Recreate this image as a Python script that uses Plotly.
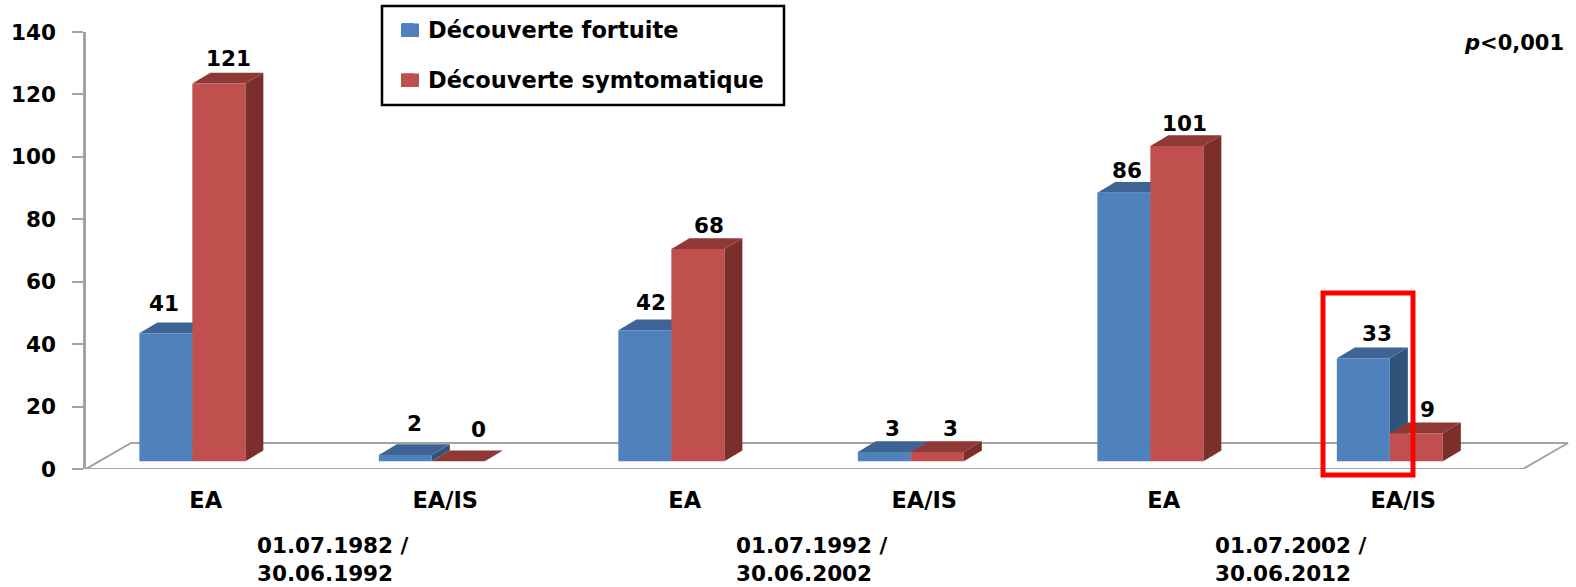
import plotly.graph_objects as go

# Values
categories = ["EA", "EA/IS", "EA", "EA/IS", "EA", "EA/IS"]
fortuite = [41, 2, 42, 3, 86, 33]
symptomatique = [121, 0, 68, 3, 101, 9]
y_ticks = [0, 20, 40, 60, 80, 100, 120, 140]
period_starts = ["01.07.1982 /", "01.07.1992 /", "01.07.2002 /"]
period_ends = ["30.06.1992", "30.06.2002", "30.06.2012"]

# Canvas and scale
W, H = 1576, 587
LEFT, TOP, BOTTOM = 86, 32, 469
PLOT_W, PLOT_H = W - LEFT, BOTTOM - TOP
CAT_PX = 239.5
UNIT_PX = PLOT_H / 140
BAR_W = 53 / CAT_PX
BAR_SHIFT = 13.4 / CAT_PX          # bars sit slightly left of the category centre
DEPTH_X = 18 / CAT_PX              # oblique depth of each column
DEPTH_Y = 10.8 / UNIT_PX
FRONT = 7.7 / UNIT_PX              # front plane of the columns above the axis zero
FLOOR_X = 45 / CAT_PX
FLOOR_Y = 26 / UNIT_PX
X_MIN, X_MAX = -0.5, 5.5 + 53 / CAT_PX

# Label nudges from the front-top centre of a column, in pixels
nudge_fortuite = [(-1.5, 30), (9, 32), (6.5, 27.5), (8.5, 23), (3.5, 22.6), (14, 25)]
nudge_symptomatique = [(9.5, 25), (20, 32), (11, 24), (13, 23), (7.5, 23), (11, 24)]

FONT = "DejaVu Sans"
TEXT_SIZE = 21.5
BLUE, BLUE_TOP, BLUE_SIDE = "#4F81BD", "#3D6494", "#30537A"
RED, RED_TOP, RED_SIDE = "#C0504D", "#8F3937", "#7B2F2D"
AXIS_GREY = "#A3A3A3"


def paper_x(px):
    return (px - LEFT) / PLOT_W


def paper_y(py):
    return (BOTTOM - py) / PLOT_H


def faces(values, left_shift):
    """Top and side parallelograms of a column series, as fill paths."""
    top_x, top_y, side_x, side_y = [], [], [], []
    for i, v in enumerate(values):
        x0 = i + left_shift
        x1 = x0 + BAR_W
        y1 = FRONT + v
        top_x += [x0, x1, x1 + DEPTH_X, x0 + DEPTH_X, x0, None]
        top_y += [y1, y1, y1 + DEPTH_Y, y1 + DEPTH_Y, y1, None]
        side_x += [x1, x1 + DEPTH_X, x1 + DEPTH_X, x1, x1, None]
        side_y += [FRONT, FRONT + DEPTH_Y, y1 + DEPTH_Y, y1, FRONT, None]
    return top_x, top_y, side_x, side_y


def face_trace(x, y, color):
    return go.Scatter(x=x, y=y, mode="lines", fill="toself", fillcolor=color,
                      line=dict(width=0, color=color), showlegend=False,
                      hoverinfo="skip", cliponaxis=False)


fig = go.Figure()

# Floor of the 3D plot
fig.add_trace(go.Scatter(
    x=[X_MIN, X_MIN + FLOOR_X, 5.5 + FLOOR_X, 5.5, X_MIN],
    y=[0, FLOOR_Y, FLOOR_Y, 0, 0],
    mode="lines", line=dict(color=AXIS_GREY, width=2),
    showlegend=False, hoverinfo="skip", cliponaxis=False))

# Column depth faces go on the base axes, so the fronts cover them
blue_shift = -BAR_SHIFT - BAR_W
red_shift = -BAR_SHIFT
bt_x, bt_y, bs_x, bs_y = faces(fortuite, blue_shift)
rt_x, rt_y, rs_x, rs_y = faces(symptomatique, red_shift)
fig.add_trace(face_trace(bs_x, bs_y, BLUE_SIDE))
fig.add_trace(face_trace(bt_x, bt_y, BLUE_TOP))
fig.add_trace(face_trace(rs_x, rs_y, RED_SIDE))
fig.add_trace(face_trace(rt_x, rt_y, RED_TOP))

# Column fronts
xs = list(range(len(categories)))
fig.add_trace(go.Bar(x=xs, y=fortuite, base=[FRONT] * 6, width=BAR_W, offset=blue_shift,
                     marker=dict(color=BLUE, line=dict(width=0)), name="Découverte fortuite",
                     xaxis="x2", yaxis="y2", legendgroup="a"))
fig.add_trace(go.Bar(x=xs, y=symptomatique, base=[FRONT] * 6, width=BAR_W, offset=red_shift,
                     marker=dict(color=RED, line=dict(width=0)), name="Découverte symtomatique",
                     xaxis="x2", yaxis="y2", legendgroup="b"))

# Value labels
annotations = []
for values, shift, nudges in ((fortuite, blue_shift, nudge_fortuite),
                              (symptomatique, red_shift, nudge_symptomatique)):
    for i, v in enumerate(values):
        annotations.append(dict(
            x=i + shift + BAR_W / 2, y=FRONT + v, xref="x", yref="y",
            text=f"<b>{v}</b>", showarrow=False, xanchor="center", yanchor="middle",
            xshift=nudges[i][0], yshift=nudges[i][1],
            font=dict(family=FONT, size=TEXT_SIZE, color="#000000")))

# Period labels under the category axis
for i, (start, end) in enumerate(zip(period_starts, period_ends)):
    px = 255 + 2 * i * CAT_PX
    for text, py in ((start, 545), (end, 573.5)):
        annotations.append(dict(
            x=paper_x(px), y=paper_y(py), xref="paper", yref="paper",
            yanchor="middle", xanchor="left", align="left",
            text=f"<b>{text}</b>", showarrow=False,
            font=dict(family=FONT, size=TEXT_SIZE, color="#000000")))

# Significance note
annotations.append(dict(
    x=paper_x(1566), y=paper_y(43), xref="paper", yref="paper", xanchor="right", yanchor="middle",
    text="<b><i>p</i>&lt;0,001</b>", showarrow=False,
    font=dict(family=FONT, size=21, color="#000000")))


def swatch(py_top, py_bottom, color):
    """Wider legend key, laid over the native one."""
    return dict(type="rect", xref="paper", yref="paper", x0=paper_x(401), x1=paper_x(419),
                y0=paper_y(py_bottom), y1=paper_y(py_top), fillcolor=color,
                line=dict(width=0), layer="above")


shapes = [
    # Legend frame
    dict(type="rect", xref="paper", yref="paper", x0=paper_x(382), x1=paper_x(784),
         y0=paper_y(105), y1=paper_y(6), line=dict(color="#000000", width=2.5), layer="below"),
    # Highlight around the last group
    dict(type="rect", xref="paper", yref="paper", x0=paper_x(1323), x1=paper_x(1413),
         y0=paper_y(475), y1=paper_y(293), line=dict(color="#FF0000", width=5), layer="above"),
    swatch(23.5, 37, BLUE),
    swatch(73.5, 87, RED),
]

fig.update_layout(
    width=W, height=H, autosize=False,
    margin=dict(l=LEFT, r=0, t=TOP, b=H - BOTTOM, pad=0),
    paper_bgcolor="white", plot_bgcolor="white",
    barmode="overlay",
    annotations=annotations, shapes=shapes,
    legend=dict(x=paper_x(388), y=paper_y(8), xanchor="left", yanchor="top",
                orientation="v", tracegroupgap=18, traceorder="grouped",
                bgcolor="rgba(0,0,0,0)", borderwidth=0,
                font=dict(family=FONT, size=22.5, color="#000000", weight=700)),
    xaxis=dict(range=[X_MIN, X_MAX], tickmode="array", tickvals=xs, ticktext=categories,
               showline=False, showgrid=False, zeroline=False, ticks="", ticklabelstandoff=15,
               tickfont=dict(family=FONT, size=22.5, color="#000000", weight=700)),
    yaxis=dict(range=[0, 140], tickmode="array", tickvals=y_ticks, showgrid=False, zeroline=False,
               showline=True, linecolor=AXIS_GREY, linewidth=2.5, ticks="outside", ticklen=11,
               tickcolor=AXIS_GREY, tickwidth=2, ticklabelstandoff=12,
               tickfont=dict(family=FONT, size=TEXT_SIZE, color="#000000", weight=700)),
    xaxis2=dict(range=[X_MIN, X_MAX], overlaying="x", visible=False),
    yaxis2=dict(range=[0, 140], overlaying="y", visible=False),
)

fig.write_html("out.html")
